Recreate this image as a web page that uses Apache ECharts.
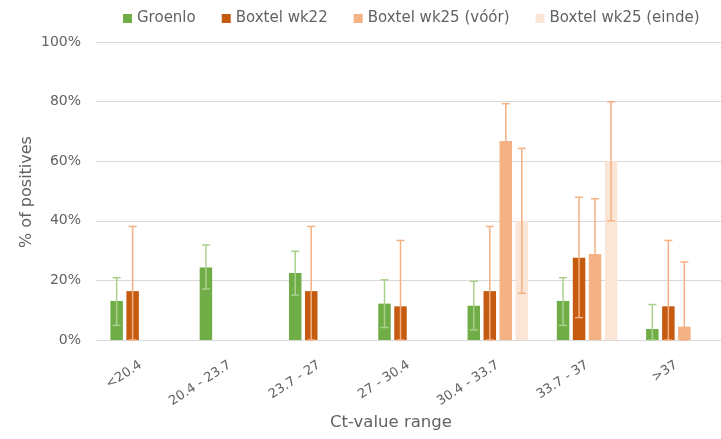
<!DOCTYPE html>
<html><head><meta charset="utf-8">
<script src="https://cdn.jsdelivr.net/npm/echarts@6/dist/echarts.min.js"></script>
<style>html,body{margin:0;padding:0;background:#fff}#c{width:721px;height:439px}</style>
</head><body><div id="c"></div>
<script>
const categories = ['<20.4', '20.4 - 23.7', '23.7 - 27', '27 - 30.4', '30.4 - 33.7', '33.7 - 37', '>37'];
const seriesNames = ['Groenlo', 'Boxtel wk22', 'Boxtel wk25 (vóór)', 'Boxtel wk25 (einde)'];
const groenlo     = [13.1, 24.3, 22.5, 12.2, 11.5, 13.1, 3.7];
const groenloLow  = [4.9, 17.1, 15.1, 4.2, 3.4, 4.9, 0];
const groenloHigh = [20.9, 31.9, 29.8, 20.2, 19.7, 20.9, 11.9];
const wk22        = [16.4, null, 16.4, 11.3, 16.4, 27.6, 11.3];
const wk22Low     = [0, null, 0, 0, 0, 7.5, 0];
const wk22High    = [38.1, null, 38.1, 33.4, 38.1, 47.9, 33.4];
const wk25v       = [null, null, null, null, 66.8, 28.9, 4.5];
const wk25vLow    = [null, null, null, null, 47, 13, 0];
const wk25vHigh   = [null, null, null, null, 79.3, 47.4, 26.2];
const wk25e       = [null, null, null, null, 40, 60, null];
const wk25eLow    = [null, null, null, null, 15.7, 40, null];
const wk25eHigh   = [null, null, null, null, 64.3, 79.9, null];
const yTicks = [0, 20, 40, 60, 80, 100];
const xAxisTitle = 'Ct-value range';
const yAxisTitle = '% of positives';

const FONT = '"DejaVu Sans", sans-serif';
const TEXT = '#626262';
const colors = ['#70ad47', '#c55a11', '#f4b183', '#fbe5d6'];
const errColors = ['#a9d18e', '#f4b183', '#f4b183', '#f4b183'];
const BAR_W = 12.5, BAR_GAP = 3.5, CAP = 8;

const values = [groenlo, wk22, wk25v, wk25e];
const lows = [groenloLow, wk22Low, wk25vLow, wk25eLow];
const highs = [groenloHigh, wk22High, wk25vHigh, wk25eHigh];

const series = [];
values.forEach((v, i) => {
  series.push({
    name: seriesNames[i], type: 'bar', data: v, barWidth: BAR_W,
    barGap: (BAR_GAP / BAR_W * 100) + '%',
    itemStyle: { color: colors[i] }, z: 2
  });
});
values.forEach((v, i) => {
  const offset = (i - 1.5) * (BAR_W + BAR_GAP);
  const data = [];
  v.forEach((val, k) => { if (val !== null) data.push([k, lows[i][k], highs[i][k]]); });
  series.push({
    type: 'custom', name: 'err' + i, z: 5, silent: true,
    data: data,
    renderItem: function (params, api) {
      const c = api.coord([api.value(0), 0]);
      const x = c[0] + offset;
      const yl = api.coord([api.value(0), api.value(1)])[1];
      const yh = api.coord([api.value(0), api.value(2)])[1];
      const st = { stroke: errColors[i], lineWidth: 1.5 };
      return { type: 'group', children: [
        { type: 'line', shape: { x1: x, y1: yl, x2: x, y2: yh }, style: st },
        { type: 'line', shape: { x1: x - CAP / 2, y1: yh, x2: x + CAP / 2, y2: yh }, style: st },
        { type: 'line', shape: { x1: x - CAP / 2, y1: yl, x2: x + CAP / 2, y2: yl }, style: st }
      ]};
    }
  });
});

const chart = echarts.init(document.getElementById('c'), null, { renderer: 'canvas' });
chart.setOption({
  animation: false,
  textStyle: { fontFamily: FONT },
  legend: {
    data: seriesNames, top: 6, left: 118, itemWidth: 9, itemHeight: 9, itemGap: 26,
    textStyle: { color: TEXT, fontSize: 15, fontFamily: FONT }, icon: 'rect'
  },
  graphic: [{
    type: 'text', x: 391, y: 423,
    style: { text: xAxisTitle, font: '16.5px ' + FONT, fill: TEXT, textAlign: 'center', textVerticalAlign: 'middle' }
  }, {
    type: 'text', x: 27, y: 192, rotation: Math.PI / 2,
    style: { text: yAxisTitle, font: '16px ' + FONT, fill: TEXT, textAlign: 'center', textVerticalAlign: 'middle' }
  }],
  grid: { left: 96, top: 42, width: 633, height: 298, containLabel: false },
  xAxis: {
    type: 'category', data: categories,
    axisLine: { lineStyle: { color: '#d9d9d9', width: 1 } },
    axisTick: { inside: true, length: 4, lineStyle: { color: '#d9d9d9' } },
    axisLabel: { rotate: 33, color: TEXT, fontSize: 13, margin: 24, fontFamily: FONT }
  },
  yAxis: {
    type: 'value', min: yTicks[0], max: yTicks[yTicks.length - 1], interval: 20,
    axisLine: { show: false }, axisTick: { show: false },
    axisLabel: { formatter: '{value}%', color: TEXT, fontSize: 14, margin: 15, fontFamily: FONT },
    splitLine: { lineStyle: { color: '#d9d9d9', width: 1 } }
  },
  series: series
});
</script></body></html>
